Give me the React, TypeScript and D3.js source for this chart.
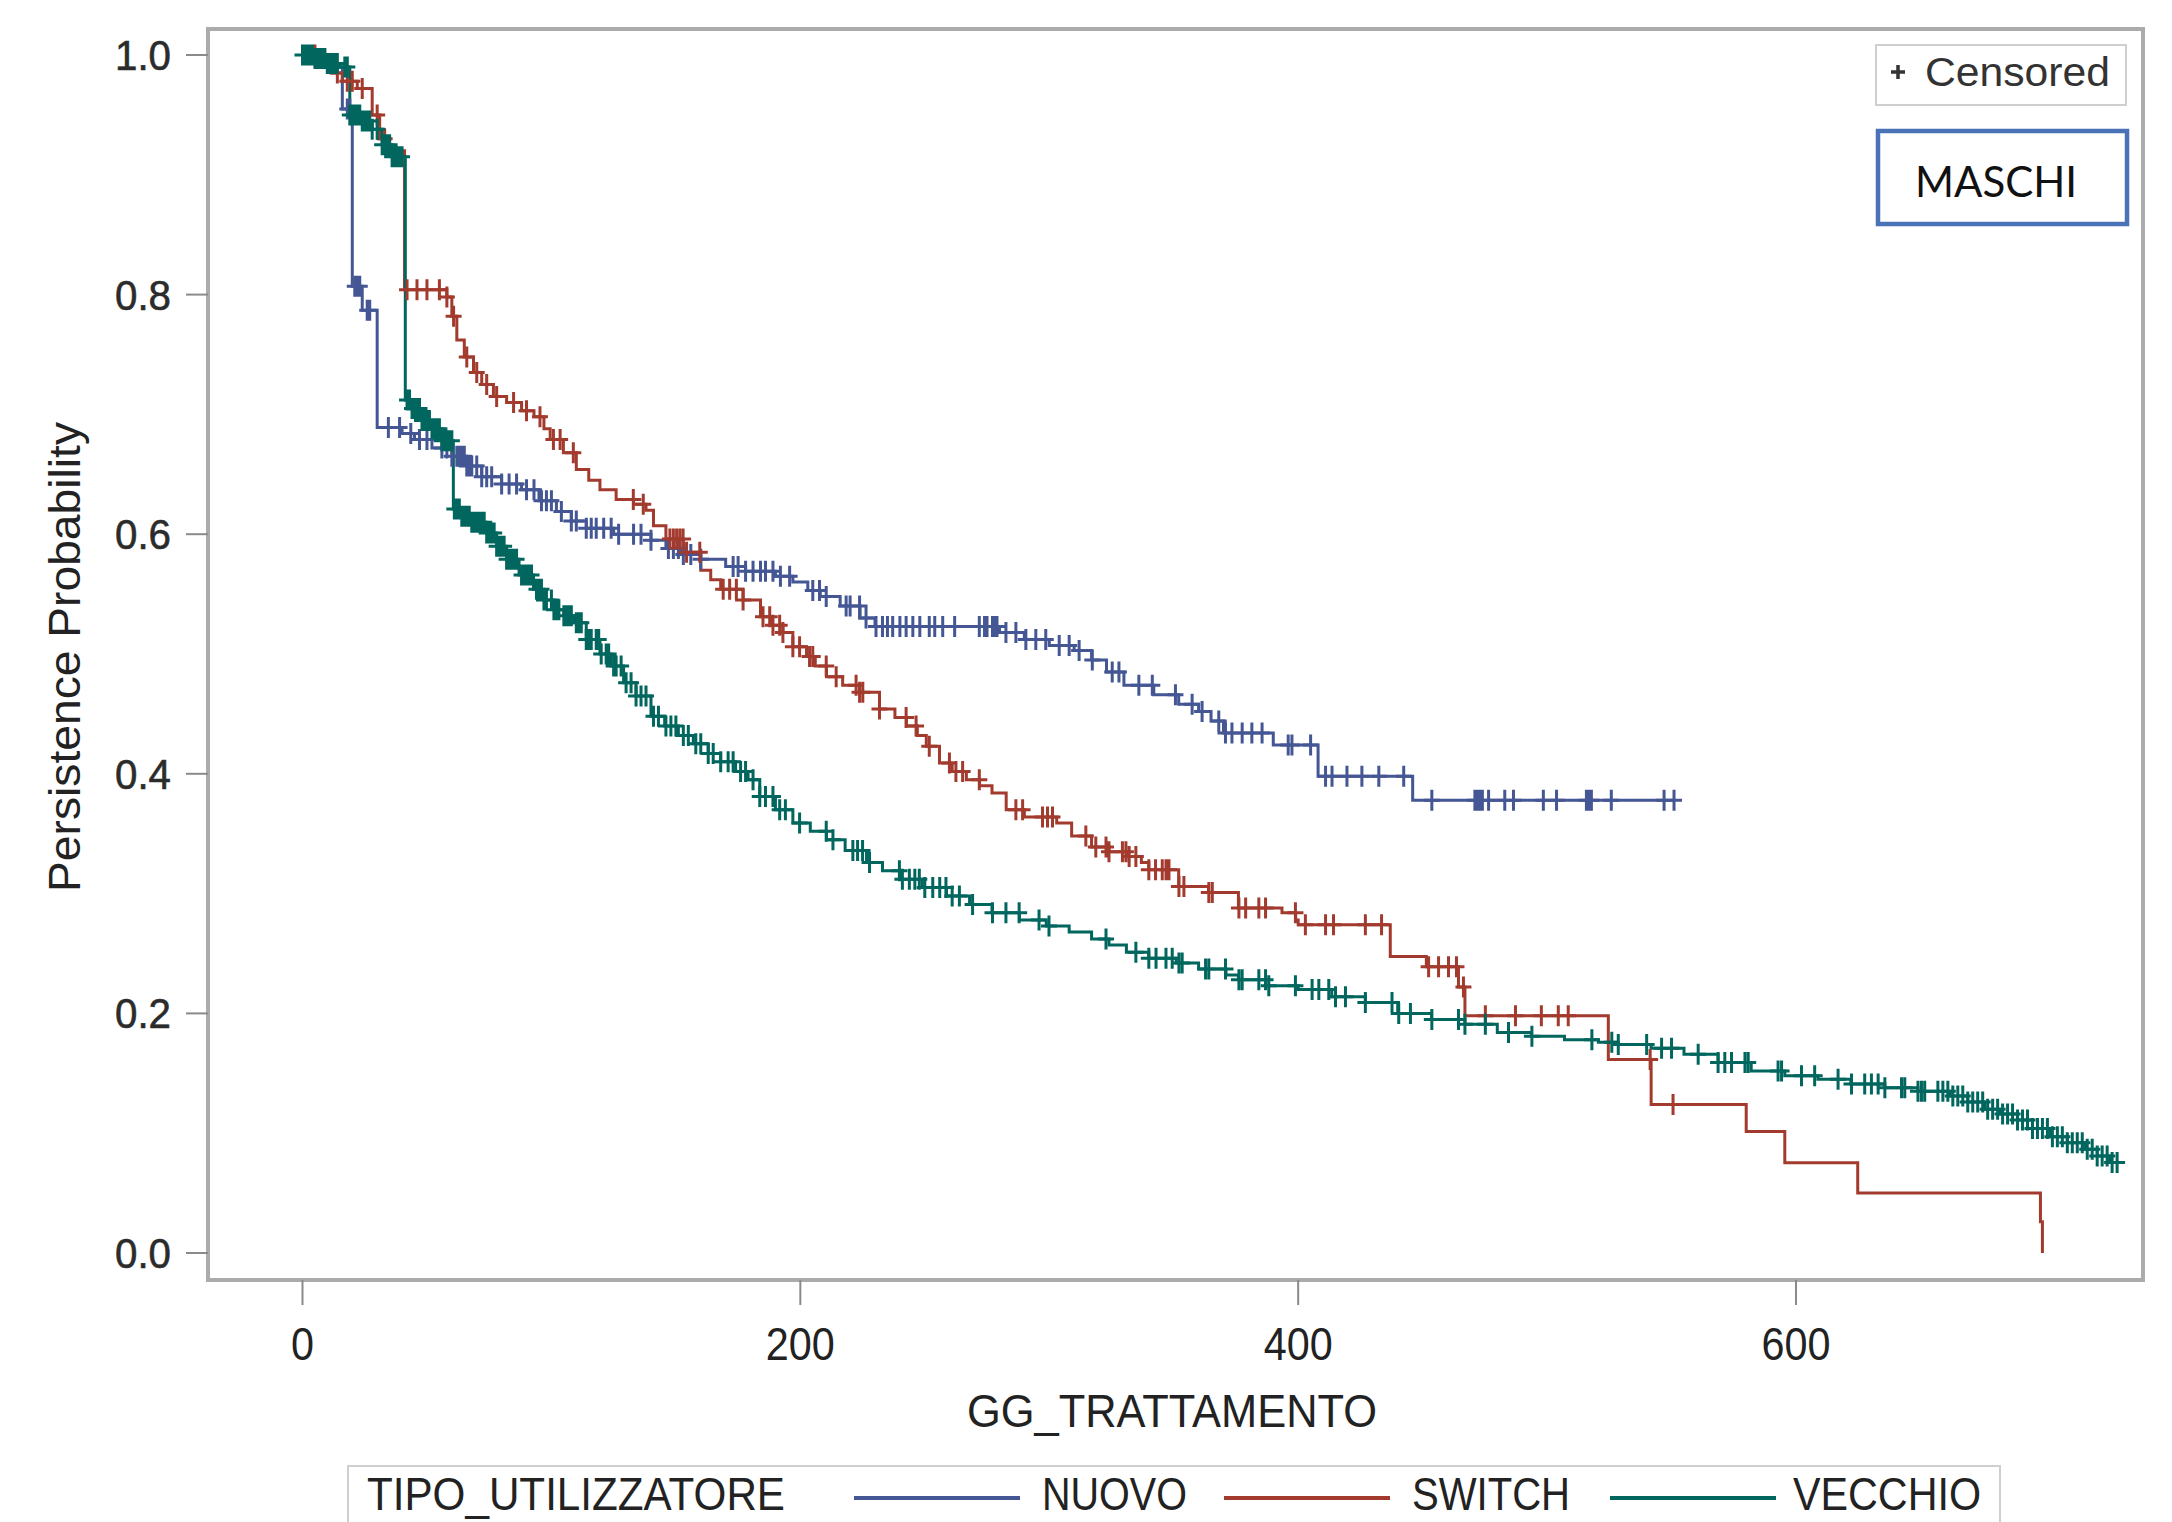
import React from "react";
import * as d3 from "d3";

// ---------- data ----------
const groups = ["NUOVO", "SWITCH", "VECCHIO"];
const groupColors = ["#445694", "#A23A2E", "#01665E"];
const xTicks = [0, 200, 400, 600];
const yTicks = [0, 0.2, 0.4, 0.6, 0.8, 1.0];
const yTickLabels = ["0.0", "0.2", "0.4", "0.6", "0.8", "1.0"];

// Kaplan-Meier step points [day, survival after event]
const nuovoSteps: [number, number][] = [
  [0, 1.0], [12, 0.99], [16, 0.955], [20, 0.807], [24, 0.787], [30, 0.689], [40, 0.684], [45, 0.679],
  [52, 0.672], [60, 0.665], [66, 0.657], [72, 0.648], [80, 0.642], [88, 0.637], [95, 0.628], [102, 0.619],
  [108, 0.611], [114, 0.605], [125, 0.6], [140, 0.595], [146, 0.588], [152, 0.583], [160, 0.579],
  [170, 0.573], [178, 0.569], [190, 0.565], [197, 0.56], [203, 0.553], [208, 0.548], [216, 0.54],
  [224, 0.53], [230, 0.523], [280, 0.518], [290, 0.512], [300, 0.507], [310, 0.503], [317, 0.495],
  [323, 0.485], [330, 0.474], [342, 0.466], [352, 0.458], [360, 0.452], [365, 0.444], [370, 0.434],
  [390, 0.424], [408, 0.398], [446, 0.378],
];
const nuovoEnd = 551;
const nuovoCensored = [
  18, 19, 21, 22, 23, 26, 27, 34.5, 39, 43.5, 47, 50, 56, 58, 60, 62, 63, 64, 65, 66, 67, 68, 70, 72, 74,
  76, 80, 83, 86, 90, 93, 96, 98, 100, 104, 108, 110, 114, 116, 118, 121, 124, 127, 133, 136, 140, 147,
  149, 151, 153, 156, 160, 173, 175, 178, 181, 184, 186, 189, 192, 195.7, 205, 207.7, 210.4, 218.4, 220,
  223.8, 226.4, 230.4, 233, 235, 237.1, 240, 242.5, 245.2, 248, 251.8, 254, 257.2, 262, 271.9, 274, 275,
  277.2, 278, 279, 282.6, 286.6, 290.6, 294.6, 298.6, 304, 308, 312, 317.3, 325.3, 328, 336, 341.4, 350.7,
  357.4, 361.4, 368.1, 370.8, 373.4, 377.5, 381.4, 385.5, 396, 397.5, 405, 411, 413.6, 419.6, 425.6,
  432.4, 442.4, 453.7, 471, 472, 473, 474, 476.5, 483, 486.5, 498.5, 503.8, 515.8, 516.5, 517, 517.8,
  525.8, 547, 551,
];

const switchSteps: [number, number][] = [
  [0, 1.0], [8, 0.993], [12, 0.985], [16, 0.978], [22, 0.972], [28, 0.95], [31, 0.93], [35, 0.92],
  [41, 0.804], [58, 0.798], [60, 0.782], [62, 0.762], [65, 0.748], [68.7, 0.735], [72, 0.725],
  [76.7, 0.715], [82, 0.71], [88, 0.703], [93, 0.698], [97, 0.688], [99.5, 0.679], [104.8, 0.668],
  [110, 0.654], [115, 0.645], [119.5, 0.637], [126, 0.629], [133, 0.625], [138, 0.62], [141, 0.607],
  [146, 0.596], [153, 0.585], [160, 0.57], [164, 0.562], [168, 0.554], [177, 0.545], [184, 0.531],
  [188, 0.524], [193, 0.518], [197, 0.506], [202.5, 0.498], [206, 0.49], [210.5, 0.481], [217, 0.474],
  [223.8, 0.468], [231.8, 0.454], [238, 0.447], [242.6, 0.44], [247, 0.432], [250.6, 0.423],
  [255.9, 0.409], [261, 0.402], [266.7, 0.395], [272, 0.39], [277, 0.384], [282.7, 0.37], [290, 0.364],
  [303, 0.359], [309, 0.348], [317, 0.339], [324, 0.335], [331, 0.331], [337, 0.326], [340, 0.32],
  [352, 0.306], [364, 0.301], [376, 0.288], [393.5, 0.284], [399, 0.278], [400, 0.274], [437, 0.2476],
  [451.5, 0.239], [464.4, 0.222], [467, 0.198], [524.6, 0.1615], [541.8, 0.124], [580, 0.1015],
  [595.5, 0.0754], [624.8, 0.05], [698.2, 0.026], [699, 0.0],
];
const switchEnd = 699;
const switchCensored = [
  5, 10, 14, 18, 20, 24, 30, 33, 42, 46, 50, 55, 58, 60.7, 66, 70, 74, 78, 84.8, 90, 95.4, 100.8, 103.5,
  108.8, 132.9, 136.9, 147.6, 149, 150.3, 151.6, 152.9, 154.3, 159.6, 169, 171.6, 174.3, 177, 185, 187.7,
  189, 191.7, 193, 197, 199.7, 203.7, 205, 210.4, 214.4, 222.4, 223.8, 225.1, 231.8, 242.5, 246.5, 251.8,
  259.9, 262.5, 265.2, 271.9, 286.6, 289.3, 297.3, 299.3, 301.3, 314.7, 318.7, 322.8, 324, 329.4, 330.8,
  332.1, 334.8, 340, 342.7, 345.4, 346.9, 348.1, 352.1, 354.1, 364.1, 365.5, 376.2, 378.9, 384.2, 386.9,
  398.9, 402.9, 411, 414.2, 427, 433.5, 452.4, 456.4, 460.4, 463.6, 466.4, 475.2, 487.3, 497.7, 504.5,
  508.5, 541.4, 550.6,
];

const vecchioSteps: [number, number][] = [
  [0, 1.0], [5, 0.997], [10, 0.993], [15, 0.99], [19, 0.95], [24, 0.945], [28, 0.938], [32, 0.925],
  [36, 0.915], [41.3, 0.712], [44, 0.705], [48, 0.695], [52, 0.688], [56, 0.678], [60.6, 0.621],
  [64, 0.615], [68, 0.61], [74, 0.601], [78, 0.59], [82, 0.579], [87, 0.566], [92.8, 0.554], [97, 0.545],
  [101, 0.537], [105, 0.532], [109, 0.526], [114, 0.512], [119.5, 0.5], [124, 0.49], [129, 0.476],
  [134, 0.465], [140, 0.448], [145.5, 0.44], [151, 0.432], [157, 0.425], [163, 0.417], [168, 0.41],
  [174, 0.402], [179, 0.395], [183.7, 0.381], [190, 0.37], [197, 0.359], [204, 0.352], [210.5, 0.345],
  [218, 0.336], [226.6, 0.326], [233, 0.319], [240, 0.312], [249, 0.305], [258.7, 0.298], [268, 0.291],
  [277, 0.284], [288, 0.278], [298.8, 0.273], [308, 0.268], [317, 0.262], [324, 0.257], [331, 0.251],
  [340, 0.246], [351, 0.242], [360, 0.237], [371, 0.232], [376, 0.228], [387, 0.223], [400, 0.22],
  [413.5, 0.214], [427, 0.209], [440, 0.2], [453.6, 0.195], [467, 0.191], [480, 0.184], [493.7, 0.181],
  [507, 0.178], [520.6, 0.176], [528.6, 0.174], [541.8, 0.171], [555, 0.166], [568.7, 0.159], [582, 0.152],
  [595.5, 0.148], [608.8, 0.145], [622, 0.141], [635.7, 0.138], [649, 0.135], [662, 0.131], [669, 0.126],
  [675.8, 0.12], [682, 0.116], [689, 0.111], [695, 0.104], [702, 0.097], [709, 0.092], [716, 0.0865],
  [721, 0.081], [726, 0.0756],
];
const vecchioEnd = 729;
const vecchioCensored = [
  0, 1, 2, 3, 4, 5, 6, 7, 8, 9, 10, 11, 12, 13, 14, 17, 18, 19, 20, 21, 22, 23, 24, 25, 26, 27, 28, 30,
  32, 33, 34, 35, 36, 37, 38, 39, 40, 42, 43, 44, 45, 46, 47, 48, 49, 50, 51, 52, 53, 54, 55, 56, 57, 58,
  59, 60, 61, 62, 63, 64, 65, 66, 67, 68, 69, 70, 71, 72, 73, 74, 75, 76, 77, 78, 79, 80, 81, 82, 83, 84,
  85, 86, 88, 89, 90, 91, 92, 94, 95, 96, 97, 98, 100, 101, 102, 103, 105, 106, 107, 108, 110, 111, 112,
  114, 115, 116, 118, 119, 120, 122, 123, 125, 126, 128, 130, 132, 134, 136, 138, 141, 143, 146, 148,
  150, 153, 155, 158, 160, 163, 165, 168, 171, 173, 176, 178, 181, 183.7, 186, 189, 191.7, 194, 199.7,
  210.4, 213.1, 221.1, 223, 225, 227.8, 239.8, 241, 243.8, 246, 247.8, 250, 253.2, 256, 258.5, 261,
  263.9, 269.2, 277.2, 282.6, 287.9, 295.9, 299.9, 322.8, 334.8, 340, 342.9, 346.9, 349.4, 352.1, 353.4,
  362.8, 364.1, 370.8, 376.2, 377.5, 384.2, 386.9, 388.2, 398.9, 405.6, 408.3, 412.3, 415, 419, 427,
  437.7, 440.4, 445.1, 453.7, 464.4, 467, 475.2, 484.5, 493.9, 518, 526, 528.6, 540, 546, 550, 560.7,
  568.7, 571.4, 574.1, 579.5, 580.8, 592.8, 594.2, 602.2, 607.5, 616.9, 622.3, 627.6, 630.3, 633, 635.7,
  642.4, 643.7, 649, 650.4, 651.7, 657, 659, 661, 663, 665, 667, 669, 671, 673, 675, 677, 679, 681, 683,
  685, 687, 689, 691, 693, 695, 697, 699, 701, 703, 705, 707, 709, 711, 713, 715, 717, 719, 721, 723,
  725, 727, 729,
];

const seriesSteps = [nuovoSteps, switchSteps, vecchioSteps];
const seriesEnds = [nuovoEnd, switchEnd, vecchioEnd];
const seriesCensored = [nuovoCensored, switchCensored, vecchioCensored];

// ---------- layout ----------
const W = 2172;
const H = 1522;
const frame = { left: 208, top: 29, right: 2143, bottom: 1280 };
const FONT = "'Liberation Sans', Arial, Helvetica, sans-serif";

export default function App() {
  const x = d3.scaleLinear().domain([0, 600]).range([302.5, 1796]);
  const y = d3.scaleLinear().domain([0, 1]).range([1253, 55]);

  const line = d3
    .line<[number, number]>()
    .x((d) => x(d[0]))
    .y((d) => y(d[1]))
    .curve(d3.curveStepAfter);

  const bis = d3.bisector((d: [number, number]) => d[0]).right;
  const survAt = (steps: [number, number][], t: number) => {
    const i = bis(steps, t) - 1;
    return steps[Math.max(0, i)][1];
  };

  const plus = (cx: number, cy: number, h: number, w: number) =>
    `M${cx - w},${cy}H${cx + w}M${cx},${cy - h}V${cy + h}`;

  return (
    <svg
      width={W}
      height={H}
      style={{ position: "absolute", left: 0, top: 0, background: "#fff" }}
      fontFamily={FONT}
    >
      <rect x={0} y={0} width={W} height={H} fill="#fff" />
      {/* plot frame */}
      <rect
        x={frame.left}
        y={frame.top}
        width={frame.right - frame.left}
        height={frame.bottom - frame.top}
        fill="#fff"
        stroke="#ababab"
        strokeWidth={4}
      />

      {/* y axis */}
      {yTicks.map((v, i) => (
        <g key={"yt" + i}>
          <line x1={186} x2={frame.left} y1={y(v)} y2={y(v)} stroke="#8a8a8a" strokeWidth={2} />
          <text
            x={171}
            y={y(v) + 15}
            textAnchor="end"
            fontSize={42}
            fill="#2b2b2b"
            stroke="#2b2b2b"
            strokeWidth={0.6}
            textLength={56}
            lengthAdjust="spacingAndGlyphs"
          >
            {yTickLabels[i]}
          </text>
        </g>
      ))}
      <text
        transform="translate(80,657) rotate(-90)"
        textAnchor="middle"
        fontSize={45}
        fill="#222"
        textLength={470}
        lengthAdjust="spacingAndGlyphs"
      >
        Persistence Probability
      </text>

      {/* x axis */}
      {xTicks.map((v) => (
        <g key={"xt" + v}>
          <line x1={x(v)} x2={x(v)} y1={frame.bottom} y2={1305} stroke="#8a8a8a" strokeWidth={2} />
          <text
            x={x(v)}
            y={1360}
            textAnchor="middle"
            fontSize={47}
            fill="#222"
            textLength={String(v).length * 23}
            lengthAdjust="spacingAndGlyphs"
          >
            {v}
          </text>
        </g>
      ))}
      <text
        x={1172}
        y={1427}
        textAnchor="middle"
        fontSize={47}
        fill="#222"
        textLength={410}
        lengthAdjust="spacingAndGlyphs"
      >
        GG_TRATTAMENTO
      </text>

      {/* curves */}
      {seriesSteps.map((steps, si) => {
        const last = steps[steps.length - 1];
        const pts: [number, number][] = [...steps, [seriesEnds[si], last[1]]];
        return (
          <path
            key={"l" + si}
            d={line(pts) || ""}
            fill="none"
            stroke={groupColors[si]}
            strokeWidth={3}
          />
        );
      })}
      {seriesCensored.map((cens, si) => (
        <path
          key={"c" + si}
          d={cens
            .map((t) => plus(x(t), y(survAt(seriesSteps[si], t)), 10.5, 8))
            .join("")}
          fill="none"
          stroke={groupColors[si]}
          strokeWidth={3}
        />
      ))}

      {/* Censored legend */}
      <rect x={1876} y={45} width={250} height={60} fill="#fff" stroke="#cfcfcf" strokeWidth={2} />
      <path d={plus(1898, 72, 7, 7)} stroke="#333" strokeWidth={3.5} fill="none" />
      <text
        x={1925}
        y={86}
        fontSize={41}
        fill="#333"
        textLength={185}
        lengthAdjust="spacingAndGlyphs"
      >
        Censored
      </text>

      {/* MASCHI box */}
      <rect x={1878} y={131} width={249} height={93} fill="#fff" stroke="#4a72b6" strokeWidth={4.5} />
      <text
        x={1915}
        y={197}
        fontSize={43}
        fill="#111"
        fontFamily="Lato, 'Open Sans', sans-serif"
        textLength={162}
        lengthAdjust="spacingAndGlyphs"
      >
        MASCHI
      </text>

      {/* bottom legend */}
      <rect x={348} y={1466} width={1652} height={80} fill="#fff" stroke="#cfcfcf" strokeWidth={2} />
      <text
        x={367}
        y={1510}
        fontSize={47}
        fill="#222"
        textLength={418}
        lengthAdjust="spacingAndGlyphs"
      >
        TIPO_UTILIZZATORE
      </text>
      {[
        { l1: 854, l2: 1020, tx: 1042, tw: 145 },
        { l1: 1224, l2: 1390, tx: 1412, tw: 158 },
        { l1: 1610, l2: 1776, tx: 1793, tw: 188 },
      ].map((p, i) => (
        <g key={"lg" + i}>
          <line x1={p.l1} x2={p.l2} y1={1498} y2={1498} stroke={groupColors[i]} strokeWidth={4} />
          <text
            x={p.tx}
            y={1510}
            fontSize={47}
            fill="#222"
            textLength={p.tw}
            lengthAdjust="spacingAndGlyphs"
          >
            {groups[i]}
          </text>
        </g>
      ))}
    </svg>
  );
}
